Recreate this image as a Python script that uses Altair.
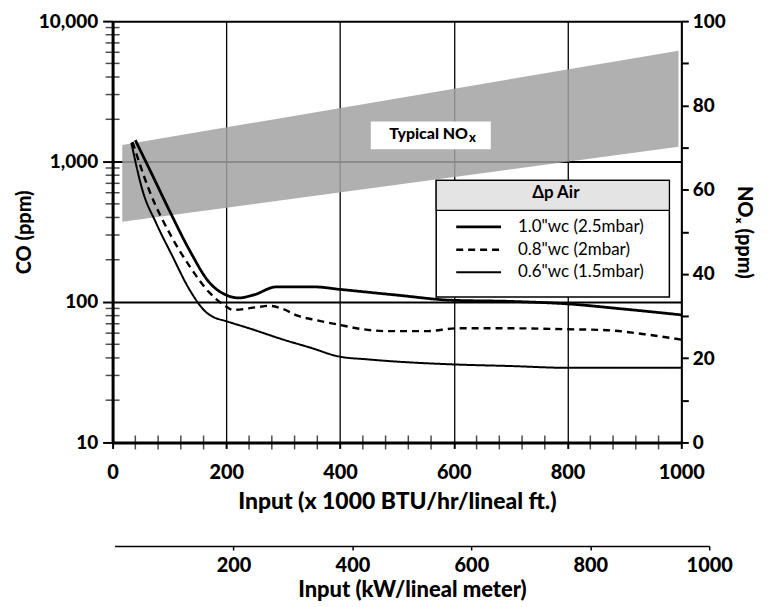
import altair as alt
import pandas as pd

FONT = "Lato"
W = 900

# ---------------- data ----------------
series_names = ['1.0"wc (2.5mbar)', '0.8"wc (2mbar)', '0.6"wc (1.5mbar)']

s1_x = [40, 70, 100, 135, 170, 200, 222, 250, 287, 357, 400, 500, 595, 700, 800, 900, 1000]
s1_y = [1420, 800, 447, 235, 138, 112, 107, 113, 128, 128, 123, 112, 103, 101, 97, 89, 81]

s2_x = [35, 65, 105, 135, 170, 196, 212, 255, 275, 300, 325, 360, 397, 440, 485, 550, 608, 700, 800, 870, 935, 1000]
s2_y = [1380, 616, 285, 181, 117, 95, 88, 92, 94, 89, 80, 74, 69, 64, 62, 62, 65, 65, 64, 63, 59, 54]

s3_x = [33, 53, 77, 105, 135, 164, 175, 200, 240, 300, 350, 397, 450, 485, 595, 700, 800, 1000]
s3_y = [1360, 616, 362, 213, 123, 85, 79, 73, 65, 54, 47, 41, 39, 38, 36, 35, 34, 34]

# Typical NOx band (NOx ppm, right axis)
band_x = [17, 995]
band_lo = [52.4, 70.2]
band_hi = [70.6, 93.0]

# label "Typical NOx" (in BTU-input / NOx-ppm units)
label_x = [625]
label_y = [73.2]
label_box_x0 = [454]
label_box_x1 = [665]
label_box_y0 = [69.6]
label_box_y1 = [76.2]

# legend frame (BTU-input / NOx-ppm units)
leg_x0 = [569]
leg_x1 = [979]
leg_y0 = [34.5]
leg_y1 = [62.2]
leg_title_y0 = [55.1]

co_major = [10, 100, 1000, 10000]
co_minor = [20, 30, 40, 50, 60, 70, 80, 90,
            200, 300, 400, 500, 600, 700, 800, 900,
            2000, 3000, 4000, 5000, 6000, 7000, 8000, 9000]
x_major = [0, 200, 400, 600, 800, 1000]
x_minor = [40, 80, 120, 160, 240, 280, 320, 360, 440, 480, 520, 560,
           640, 680, 720, 760, 840, 880, 920, 960]
nox_ticks = [0, 10, 20, 30, 40, 50, 60, 70, 80, 90, 100]
kw_ticks = [200, 400, 600, 800, 1000]

# ---------------- tables ----------------
rows = []
for name, xs, ys in zip(series_names, [s1_x, s2_x, s3_x], [s1_y, s2_y, s3_y]):
    for a, b in zip(xs, ys):
        rows.append({"input": a, "co": b, "series": name})
lines_df = pd.DataFrame(rows)

band_df = pd.DataFrame({"input": band_x, "lo": band_lo, "hi": band_hi})
box_df = pd.DataFrame({"bx0": label_box_x0, "bx1": label_box_x1,
                       "by0": label_box_y0, "by1": label_box_y1})
lab_df = pd.DataFrame({"tx": label_x, "ty": label_y, "t": ["Typical NO"], "s": ["x"]})
leg_df = pd.DataFrame({"lx0": leg_x0, "lx1": leg_x1, "ly0": leg_y0, "ly1": leg_y1,
                       "lt0": leg_title_y0})
co_minor_df = pd.DataFrame({"co": co_minor})
x_minor_df = pd.DataFrame({"input": x_minor})
kw_df = pd.DataFrame({"kw": [0, 1000]})

# ---------------- CO group (left axis, BTU x axis) ----------------
x_axis = alt.Axis(values=x_major, format="d", title="Input (x 1000 BTU/hr/lineal ft.)", orient="bottom",
                  grid=True, gridColor="black", gridWidth=1.3, domainColor="black", domainWidth=3,
                  tickColor="black", tickSize=6, tickWidth=2, labelFont=FONT, labelFontSize=20,
                  labelFontWeight=W, labelColor="black", labelPadding=14, titleFont=FONT,
                  titleFontSize=23, titleFontWeight=W, titleColor="black", titlePadding=8,
                  labelFlush=False)
x_btu = alt.X("input:Q", scale=alt.Scale(domain=[0, 1000], nice=False, zero=False), axis=x_axis)

y_axis = alt.Axis(values=co_major, format=",d", title="CO (ppm)", orient="left",
                  grid=True, gridColor="black", gridWidth=2, domainColor="black", domainWidth=3,
                  tickColor="black", tickSize=10, tickWidth=2, labelFont=FONT, labelFontSize=19,
                  labelFontWeight=W, labelColor="black", labelPadding=5, titleFont=FONT,
                  titleFontSize=20, titleFontWeight=W, titleColor="black", titlePadding=4,
                  labelFlush=False)
y_co = alt.Y("co:Q", scale=alt.Scale(type="log", domain=[10, 10000], nice=False), axis=y_axis)

legend_kw = dict(title="\u0394p Air", orient="none", legendX=348, legendY=157,
                 padding=8, symbolType="M-2.25,0H2.25",
                 symbolSize=400, symbolStrokeColor="black", symbolFillColor="transparent",
                 labelFont=FONT, labelFontSize=17,
                 labelColor="black", titleFont=FONT, titleFontSize=17, titleFontWeight="bold",
                 titleColor="black", titleAnchor="middle", titlePadding=13, rowPadding=3,
                 labelOffset=28)

lines = alt.Chart(lines_df).mark_line(color="black", interpolate="monotone").encode(
    x=x_btu,
    y=y_co,
    strokeDash=alt.StrokeDash("series:N",
                              scale=alt.Scale(domain=series_names, range=[[1, 0], [7, 5], [1, 0]]),
                              legend=alt.Legend(**legend_kw)),
    strokeWidth=alt.StrokeWidth("series:N",
                                scale=alt.Scale(domain=series_names, range=[2.8, 2.0, 1.1]),
                                legend=alt.Legend(**legend_kw)),
)

co_ticks = alt.Chart(co_minor_df).mark_tick(color="black", thickness=1.5, size=14,
                                             orient="horizontal").encode(
    y=y_co, x=alt.value(0)
)
xm_ticks = alt.Chart(x_minor_df).mark_tick(color="black", thickness=1.5, size=14,
                                            orient="vertical").encode(
    x=x_btu, y=alt.value(423)
)

co_group = alt.layer(lines, co_ticks, xm_ticks)

# ---------------- NOx group (right axis) ----------------
nox_axis = alt.Axis(values=nox_ticks, labelExpr="datum.value % 20 == 0 ? datum.label : ''",
                    title="NO\u2093 (ppm)", orient="right", grid=False, domainColor="black",
                    domainWidth=2, tickColor="black", tickSize=7, tickWidth=2, labelFont=FONT,
                    labelFontSize=19, labelFontWeight=W, labelColor="black", labelPadding=4,
                    titleFont=FONT, titleFontSize=20, titleFontWeight=W, titleColor="black",
                    titlePadding=8, labelFlush=False)


def nx(field):
    return alt.X(field, type="quantitative",
                 scale=alt.Scale(domain=[0, 1000], nice=False, zero=False), axis=None)


def ny(field):
    return alt.Y(field, type="quantitative",
                 scale=alt.Scale(domain=[0, 100], nice=False), axis=nox_axis)


band = alt.Chart(band_df).mark_area(color="#a2a2a2", opacity=0.85).encode(
    x=nx("input"), y=ny("lo"), y2="hi:Q"
)
box = alt.Chart(box_df).mark_rect(color="white").encode(
    x=nx("bx0"), x2="bx1:Q", y=ny("by0"), y2="by1:Q"
)
label = alt.Chart(lab_df).mark_text(font=FONT, fontSize=16, fontWeight=W, color="black",
                                    align="right").encode(
    x=nx("tx"), y=ny("ty"), text="t:N"
)
label_sub = alt.Chart(lab_df).mark_text(font=FONT, fontSize=13, fontWeight=W, color="black",
                                        align="left", dx=1, dy=4).encode(
    x=nx("tx"), y=ny("ty"), text="s:N"
)
leg_box = alt.Chart(leg_df).mark_rect(fill="white", stroke="black", strokeWidth=1.5).encode(
    x=nx("lx0"), x2="lx1:Q", y=ny("ly0"), y2="ly1:Q"
)
leg_title = alt.Chart(leg_df).mark_rect(fill="#e4e4e4", stroke="black", strokeWidth=1.2).encode(
    x=nx("lx0"), x2="lx1:Q", y=ny("lt0"), y2="ly1:Q"
)
nox_group = alt.layer(band, box, label, label_sub, leg_box, leg_title)

# ---------------- kW axis ----------------
kw_layer = alt.Chart(kw_df).mark_point(opacity=0).encode(
    x=alt.X("kw:Q", scale=alt.Scale(domain=[0, 1000], range=[2, 599], nice=False, zero=False),
            axis=alt.Axis(orient="bottom", offset=104, values=kw_ticks, format="d",
                          title="Input (kW/lineal meter)",
                          grid=False, domainColor="black", domainWidth=1.5, tickColor="black",
                          tickSize=4, tickWidth=1.5, labelFont=FONT, labelFontSize=20,
                          labelFontWeight=W, labelColor="black", labelPadding=6,
                          titleFont=FONT, titleFontSize=22, titleFontWeight=W,
                          titleColor="black", titlePadding=4, labelFlush=False))
)

chart = alt.layer(nox_group, co_group, kw_layer).resolve_scale(
    x="independent", y="independent"
).properties(
    width=571, height=423,
    padding={"left": 105, "top": 12, "right": 80, "bottom": 160},
    autosize=alt.AutoSizeParams(type="none"),
).configure_view(stroke="black", strokeWidth=3).configure(background="white")

chart.save("out.html", embed_options={"renderer": "svg", "actions": False})
